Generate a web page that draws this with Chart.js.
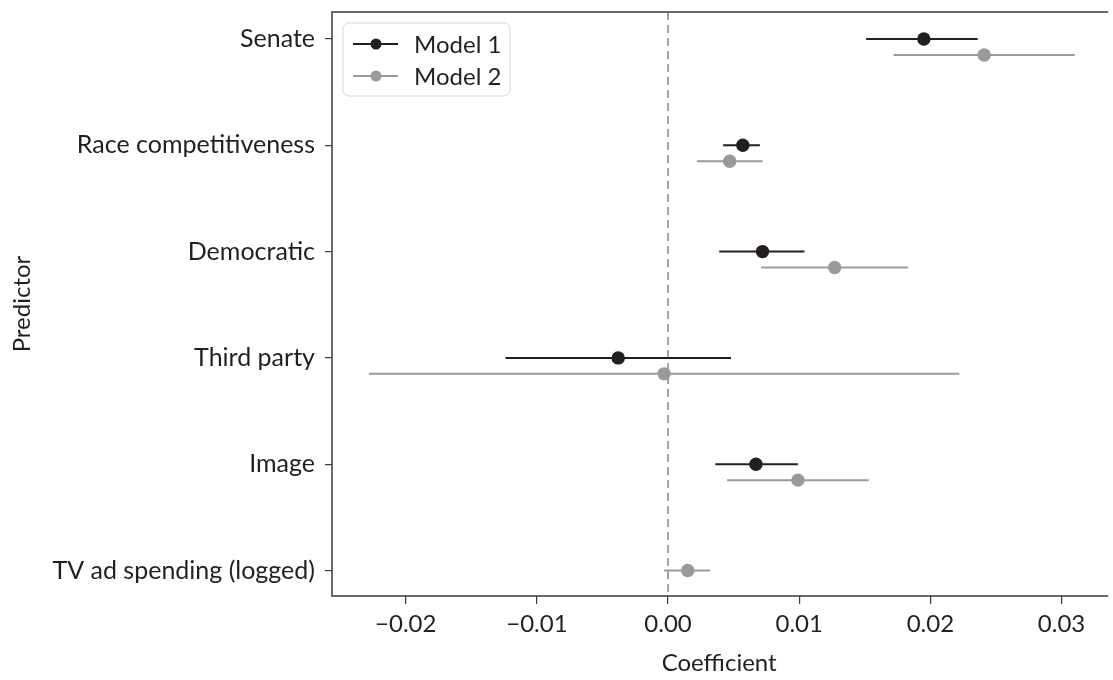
<!DOCTYPE html>
<html>
<head>
<meta charset="utf-8">
<script src="https://cdn.jsdelivr.net/npm/chart.js@4.4.1/dist/chart.umd.min.js"></script>
<style>
  html, body { margin: 0; padding: 0; background: #fff; overflow: hidden; }
  canvas { display: block; }
</style>
</head>
<body>
<canvas id="coefChart" width="1113" height="680"></canvas>
<script>
// Predictors, top to bottom
const predictors = ['Senate', 'Race competitiveness', 'Democratic', 'Third party', 'Image', 'TV ad spending (logged)'];

// Model 1 (no TV ad spending term)
const model1Est = [0.0195, 0.0057, 0.0072, -0.0038, 0.0067, null];
const model1Lo  = [0.0151, 0.0042, 0.0039, -0.0124, 0.0036, null];
const model1Hi  = [0.0236, 0.0070, 0.0104,  0.0048, 0.0099, null];

// Model 2
const model2Est = [0.0241, 0.0047, 0.0127, -0.0003, 0.0099,  0.0015];
const model2Lo  = [0.0172, 0.0022, 0.0071, -0.0228, 0.0045, -0.0003];
const model2Hi  = [0.0310, 0.0072, 0.0183,  0.0222, 0.0153,  0.0032];

const xTicks = [-0.02, -0.01, 0.00, 0.01, 0.02, 0.03];

const DARK = '#231f20';
const GREY = '#9a9a9c';
const DODGE = 0.15; // model 2 sits a little below model 1 when both exist

function buildPoints(est, lo, hi, shift) {
    const pts = [];
    est.forEach((v, i) => {
        if (v === null) return;
        const both = model1Est[i] !== null && model2Est[i] !== null;
        pts.push({ x: v, y: i + (both ? shift : 0), lo: lo[i], hi: hi[i] });
    });
    return pts;
}

// axis labels shouldn't push the plot area around
function noPad(scale) {
    scale.paddingTop = 0;
    scale.paddingBottom = 0;
    scale.paddingLeft = 0;
    scale.paddingRight = 0;
}

// --- plugins ---
const zeroLine = {
    id: 'zeroLine',
    beforeDatasetsDraw(chart) {
        const { ctx, chartArea, scales: { x } } = chart;
        const px = x.getPixelForValue(0);
        ctx.save();
        ctx.strokeStyle = '#a3a3a3';
        ctx.lineWidth = 2;
        ctx.setLineDash([8, 5]);
        ctx.beginPath();
        ctx.moveTo(px, chartArea.top);
        ctx.lineTo(px, chartArea.bottom);
        ctx.stroke();
        ctx.restore();
    }
};

const errorBars = {
    id: 'errorBars',
    beforeDatasetsDraw(chart) {
        const { ctx, scales: { x, y } } = chart;
        chart.data.datasets.forEach((ds, i) => {
            if (!chart.isDatasetVisible(i)) return;
            ctx.save();
            ctx.strokeStyle = ds.borderColor;
            ctx.lineWidth = 2;
            ds.data.forEach(p => {
                const py = y.getPixelForValue(p.y);
                ctx.beginPath();
                ctx.moveTo(x.getPixelForValue(p.lo), py);
                ctx.lineTo(x.getPixelForValue(p.hi), py);
                ctx.stroke();
            });
            ctx.restore();
        });
    }
};

const frameAndLegend = {
    id: 'frameAndLegend',
    afterDraw(chart) {
        const { ctx, chartArea } = chart;
        ctx.save();
        // plot frame (right edge falls outside the picture)
        ctx.strokeStyle = '#3a3a3a';
        ctx.lineWidth = 1.5;
        ctx.beginPath();
        ctx.moveTo(chartArea.right + 2, chartArea.top);
        ctx.lineTo(chartArea.left, chartArea.top);
        ctx.lineTo(chartArea.left, chartArea.bottom);
        ctx.lineTo(chartArea.right + 2, chartArea.bottom);
        ctx.stroke();

        // legend box
        const bx = chartArea.left + 11, by = chartArea.top + 11, bw = 167, bh = 73;
        ctx.fillStyle = 'rgba(255,255,255,0.85)';
        ctx.strokeStyle = '#d6d6d6';
        ctx.lineWidth = 1;
        ctx.beginPath();
        ctx.roundRect(bx, by, bw, bh, 6);
        ctx.fill();
        ctx.stroke();

        ctx.font = "24px Lato, 'Open Sans', sans-serif";
        ctx.textBaseline = 'middle';
        chart.data.datasets.forEach((ds, i) => {
            const cy = by + 21 + i * 32;
            ctx.strokeStyle = ds.borderColor;
            ctx.lineWidth = 2;
            ctx.beginPath();
            ctx.moveTo(bx + 10, cy);
            ctx.lineTo(bx + 55, cy);
            ctx.stroke();
            ctx.fillStyle = ds.backgroundColor;
            ctx.beginPath();
            ctx.arc(bx + 33, cy, 5.5, 0, Math.PI * 2);
            ctx.fill();
            ctx.fillStyle = DARK;
            ctx.fillText(ds.label, bx + 71, cy + 1);
        });
        ctx.restore();
    }
};

Chart.defaults.font.family = "Lato, 'Open Sans', sans-serif";
Chart.defaults.font.size = 24;
Chart.defaults.color = DARK;

new Chart(document.getElementById('coefChart'), {
    type: 'scatter',
    data: {
        datasets: [
            {
                label: 'Model 1',
                data: buildPoints(model1Est, model1Lo, model1Hi, 0),
                backgroundColor: DARK,
                borderColor: DARK,
                pointRadius: 6.7,
                borderWidth: 0
            },
            {
                label: 'Model 2',
                data: buildPoints(model2Est, model2Lo, model2Hi, DODGE),
                backgroundColor: GREY,
                borderColor: GREY,
                pointRadius: 6.7,
                borderWidth: 0
            }
        ]
    },
    options: {
        responsive: false,
        animation: false,
        layout: { padding: { top: 12, right: 0, left: 0, bottom: 0 } },
        plugins: {
            legend: { display: false },
            tooltip: { enabled: false }
        },
        scales: {
            x: {
                type: 'linear',
                min: -0.02562,
                max: 0.03341,
                afterBuildTicks: (scale) => { scale.ticks = xTicks.map(v => ({ value: v })); },
                afterFit: (scale) => { scale.height = 84; noPad(scale); },
                grid: { drawOnChartArea: false, tickLength: 8, color: '#3a3a3a', lineWidth: 1.2 },
                border: { display: false },
                ticks: {
                    padding: 6,
                    color: DARK,
                    callback: (v) => v.toFixed(2).replace('-', '\u2212')
                },
                title: { display: true, text: 'Coefficient', color: DARK, padding: { top: 0, bottom: 2 } }
            },
            y: {
                type: 'linear',
                reverse: true,
                min: -0.254,
                max: 5.24,
                afterBuildTicks: (scale) => { scale.ticks = predictors.map((_, i) => ({ value: i })); },
                afterFit: (scale) => { scale.width = 332; noPad(scale); },
                grid: { drawOnChartArea: false, tickLength: 7, color: '#3a3a3a', lineWidth: 1.2 },
                border: { display: false },
                ticks: {
                    padding: 10,
                    color: DARK,
                    font: { size: 25 },
                    callback: (v) => predictors[v]
                },
                title: { display: true, text: 'Predictor', color: DARK, padding: { top: 8, bottom: 0 } }
            }
        }
    },
    plugins: [zeroLine, errorBars, frameAndLegend]
});
</script>
</body>
</html>
